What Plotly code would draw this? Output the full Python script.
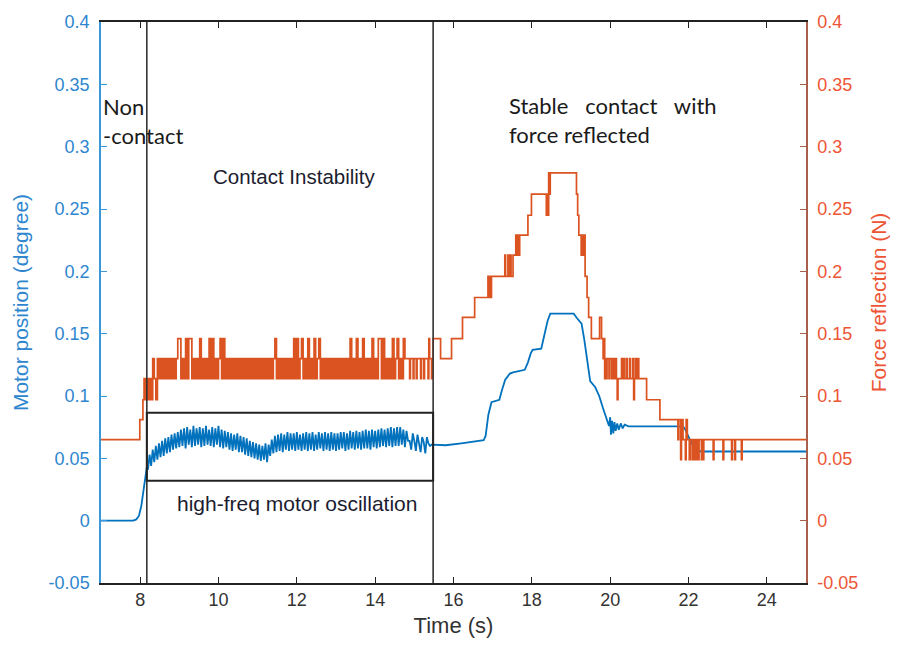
import plotly.graph_objects as go

# ---------------- data ----------------
# Motor position (degree), left axis
motor_pre = [(7.0, 0.0), (7.82, 0.0), (7.90, 0.001), (7.97, 0.004), (8.03, 0.012),
             (8.08, 0.024), (8.13, 0.036), (8.17, 0.043)]
motor_band_start = 8.20
motor_band_dt = 0.04
# high-frequency oscillation, thousandths of a degree
motor_band = [
    41, 53, 44, 57, 47, 60, 49, 62, 51, 64, 52, 66, 54, 67, 55, 69, 57, 70, 58, 71,
    59, 73, 60, 74, 58, 75, 61, 73, 59, 76, 60, 74, 61, 75, 59, 74, 60, 76, 61, 73,
    60, 75, 59, 74, 61, 76, 59, 73, 58, 72, 59, 71, 57, 70, 56, 69, 57, 70, 55, 68,
    55, 67, 53, 66, 52, 64, 51, 63, 50, 62, 49, 61, 48, 60, 49, 62, 47, 61, 52, 65,
    54, 68, 55, 69, 56, 70, 55, 69, 57, 71, 56, 70, 57, 70, 56, 71, 57, 69, 56, 70,
    57, 71, 56, 70, 57, 71, 56, 69, 57, 71, 58, 70, 56, 71, 57, 70, 56, 71, 57, 70,
    56, 70, 57, 71, 58, 71, 56, 70, 57, 72, 58, 71, 57, 72, 58, 71, 57, 72, 58, 73,
    58, 72, 57, 73, 59, 72, 58, 73, 59, 74, 60, 73, 59, 74, 60, 75, 59, 74, 60, 75,
    60, 75, 61, 73, 59, 72, 64, 64, 57, 70, 64, 56, 69, 63, 55, 67, 63, 54, 67, 62,
    60, 61,
]
motor_post = [(15.48, 0.061), (15.8, 0.0605), (16.2, 0.062), (16.5, 0.063), (16.77, 0.0645),
              (16.82, 0.068), (16.89, 0.085), (16.97, 0.095), (17.17, 0.097), (17.24, 0.105),
              (17.32, 0.113), (17.44, 0.118), (17.52, 0.119), (17.82, 0.121), (17.90, 0.127),
              (17.97, 0.134), (18.02, 0.137), (18.24, 0.138), (18.32, 0.148), (18.40, 0.160),
              (18.47, 0.166), (19.07, 0.166), (19.14, 0.163), (19.27, 0.158), (19.34, 0.145),
              (19.44, 0.120), (19.49, 0.112), (19.62, 0.107), (19.72, 0.100), (19.82, 0.090),
              (19.90, 0.083), (19.97, 0.076), (20.00, 0.083), (20.02, 0.069), (20.05, 0.080),
              (20.08, 0.070), (20.11, 0.079), (20.14, 0.072), (20.18, 0.078), (20.22, 0.073),
              (20.27, 0.078), (20.32, 0.074), (20.37, 0.077), (20.47, 0.0757), (21.86, 0.0757),
              (21.92, 0.073), (22.02, 0.066), (22.12, 0.060), (22.22, 0.057), (22.32, 0.0555),
              (25.0, 0.0555)]

# Force reflection (N), right axis (step signal)
force_levels = {"3": 0.097, "4": 0.114, "5": 0.130, "6": 0.146}
force_pre = [(7.0, 0.065), (7.99, 0.081), (8.07, 0.097), (8.10, 0.114), (8.12, 0.097),
             (8.14, 0.114), (8.16, 0.097), (8.18, 0.114)]
force_band_start = 8.20
force_band_dt = 0.04
force_band_codes = (
    "34354354545454545456"
    "64546466454546454546"
    "46454564645454545454"
    "54545454545454545454"
    "56454545454546464564"
    "54645464564545454545"
    "45454545464546454645"
    "45464546646454546456"
    "4546"
)
force_post = [(14.76, 0.130), (14.88, 0.114), (14.90, 0.130), (14.97, 0.114), (14.99, 0.130),
              (15.05, 0.114), (15.07, 0.130), (15.16, 0.114), (15.18, 0.130), (15.24, 0.114),
              (15.26, 0.130), (15.35, 0.114), (15.37, 0.146), (15.39, 0.130), (15.44, 0.114),
              (15.46, 0.130), (15.48, 0.146), (15.67, 0.130), (15.95, 0.146), (16.23, 0.163),
              (16.54, 0.179), (16.88, 0.196), (16.90, 0.179), (16.92, 0.196), (16.94, 0.179),
              (16.97, 0.196), (17.31, 0.213), (17.33, 0.196), (17.39, 0.213), (17.41, 0.196),
              (17.45, 0.213), (17.47, 0.196), (17.52, 0.213), (17.59, 0.229), (17.61, 0.213),
              (17.64, 0.229), (17.66, 0.213), (17.69, 0.229), (17.90, 0.245), (17.99, 0.262),
              (18.37, 0.245), (18.39, 0.262), (18.41, 0.245), (18.43, 0.279), (18.45, 0.262),
              (18.47, 0.279), (19.14, 0.262), (19.17, 0.245), (19.20, 0.229), (19.26, 0.213),
              (19.28, 0.229), (19.31, 0.213), (19.33, 0.229), (19.36, 0.196), (19.41, 0.179),
              (19.45, 0.163), (19.52, 0.146), (19.73, 0.163), (19.78, 0.146), (19.82, 0.130),
              (19.84, 0.146), (19.86, 0.114), (19.88, 0.130), (19.90, 0.114), (19.92, 0.130),
              (19.97, 0.114), (19.99, 0.130), (20.04, 0.114), (20.06, 0.130), (20.10, 0.114),
              (20.12, 0.130), (20.16, 0.114), (20.18, 0.097), (20.20, 0.114), (20.29, 0.130),
              (20.31, 0.114), (20.35, 0.130), (20.37, 0.114), (20.42, 0.130), (20.44, 0.114),
              (20.50, 0.130), (20.52, 0.114), (20.58, 0.130), (20.60, 0.097), (20.62, 0.114),
              (20.65, 0.130), (20.67, 0.114), (20.71, 0.130), (20.73, 0.114), (20.93, 0.097),
              (21.27, 0.081), (21.73, 0.065), (21.75, 0.081), (21.80, 0.049), (21.82, 0.081),
              (21.86, 0.065), (21.92, 0.049), (21.94, 0.081), (21.97, 0.065), (22.02, 0.049),
              (22.05, 0.065), (22.10, 0.049), (22.12, 0.065), (22.16, 0.049), (22.18, 0.065),
              (22.20, 0.049), (22.22, 0.065), (22.24, 0.049), (22.27, 0.065), (22.33, 0.049),
              (22.35, 0.065), (22.37, 0.049), (22.39, 0.065), (22.63, 0.049), (22.65, 0.065),
              (22.88, 0.049), (22.90, 0.065), (23.10, 0.049), (23.12, 0.065), (23.18, 0.049),
              (23.20, 0.065), (23.35, 0.049), (23.37, 0.065), (25.0, 0.065)]

x_ticks = [8, 10, 12, 14, 16, 18, 20, 22, 24]
y_ticks = [-0.05, 0, 0.05, 0.1, 0.15, 0.2, 0.25, 0.3, 0.35, 0.4]
y_tick_text = ["-0.05", "0", "0.05", "0.1", "0.15", "0.2", "0.25", "0.3", "0.35", "0.4"]

phase_bounds = [8.17, 15.48]            # vertical phase separators (s)
osc_box = (8.17, 15.48, 0.032, 0.0865)  # highlighted oscillation region

# ---------------- assemble series ----------------
motor_t = [t for t, _ in motor_pre]
motor_v = [v for _, v in motor_pre]
for i, m in enumerate(motor_band):
    motor_t.append(motor_band_start + i * motor_band_dt)
    motor_v.append(m / 1000.0)
motor_t += [t for t, _ in motor_post]
motor_v += [v for _, v in motor_post]

force_t = [t for t, _ in force_pre]
force_v = [v for _, v in force_pre]
for i, c in enumerate(force_band_codes):
    force_t.append(force_band_start + i * force_band_dt)
    force_v.append(force_levels[c])
force_t += [t for t, _ in force_post]
force_v += [v for _, v in force_post]

BLUE = "#0072BD"
ORANGE = "#DA5320"
BLUE_AX = "#3b98d8"
BLUE_TXT = "#2e86cf"
RED_TXT = "#ee5535"
RIGHT_AX = "#a8604c"

fig = go.Figure()
fig.add_trace(go.Scatter(x=force_t, y=force_v, mode="lines", yaxis="y2",
                         line=dict(color=ORANGE, width=1.7, shape="hv"),
                         showlegend=False, hoverinfo="skip"))
fig.add_trace(go.Scatter(x=motor_t, y=motor_v, mode="lines", yaxis="y",
                         line=dict(color=BLUE, width=1.8),
                         showlegend=False, hoverinfo="skip"))

shapes = []
for xb in phase_bounds:
    shapes.append(dict(type="line", xref="x", yref="paper", x0=xb, x1=xb, y0=0, y1=1,
                       line=dict(color="#333333", width=1.6)))
shapes.append(dict(type="rect", xref="x", yref="y", x0=osc_box[0], x1=osc_box[1],
                   y0=osc_box[2], y1=osc_box[3], line=dict(color="#222222", width=2)))

annotations = [
    dict(text="Non<br>-contact", x=7.0, y=0.3205, xref="x", yref="y", xanchor="left",
         yanchor="middle", align="left", showarrow=False,
         font=dict(family="Lato, Open Sans, sans-serif", size=22, color="#1a1a1a")),
    dict(text="Contact Instability", x=11.95, y=0.2757, xref="x", yref="y",
         xanchor="center", yanchor="middle", showarrow=False,
         font=dict(family="Liberation Sans, Arial, sans-serif", size=20.5, color="#1c1c30")),
    dict(text="Stable\u00a0\u00a0 contact\u00a0\u00a0 with<br>force reflected", x=17.36, y=0.3215,
         xref="x", yref="y", xanchor="left", yanchor="middle", align="left", showarrow=False,
         font=dict(family="Lato, Open Sans, sans-serif", size=22, color="#1a1a1a")),
    dict(text="high-freq motor oscillation", x=12.0, y=0.0135, xref="x", yref="y",
         xanchor="center", yanchor="middle", showarrow=False,
         font=dict(family="Liberation Sans, Arial, sans-serif", size=21, color="#1c1c30")),
]

fig.update_layout(
    width=900, height=659,
    margin=dict(l=101, r=94, t=15, b=76),
    paper_bgcolor="white", plot_bgcolor="white",
    showlegend=False,
    shapes=shapes,
    annotations=annotations,
    xaxis=dict(range=[7, 25], tickvals=x_ticks, ticktext=[str(v) for v in x_ticks],
               ticks="inside", ticklen=6, tickcolor="#222222", tickwidth=1,
               showline=True, linecolor="#222222", linewidth=1.5, mirror="ticks",
               showgrid=False, zeroline=False,
               tickfont=dict(family="Liberation Sans Narrow, Liberation Sans, Arial", size=18, color="#333333"),
               title=dict(text="Time (s)", standoff=8,
                          font=dict(family="Liberation Sans, Arial", size=22, color="#333333"))),
    yaxis=dict(range=[-0.05, 0.4], tickvals=y_ticks, ticktext=y_tick_text,
               ticks="inside", ticklen=6, tickcolor=BLUE_AX, tickwidth=1,
               showline=True, linecolor=BLUE_AX, linewidth=1.5,
               showgrid=False, zeroline=False, ticklabelstandoff=6,
               tickfont=dict(family="Liberation Sans, Arial", size=18, color=BLUE_TXT),
               title=dict(text="Motor position (degree)", standoff=14,
                          font=dict(family="Liberation Sans, Arial", size=21, color=BLUE_TXT))),
    yaxis2=dict(range=[-0.05, 0.4], tickvals=y_ticks, ticktext=y_tick_text,
                overlaying="y", side="right",
                ticks="inside", ticklen=6, tickcolor=RIGHT_AX, tickwidth=1,
                showline=True, linecolor=RIGHT_AX, linewidth=1.5,
                showgrid=False, zeroline=False, ticklabelstandoff=6,
                tickfont=dict(family="Liberation Sans, Arial", size=18, color=RED_TXT),
                title=dict(text="Force reflection (N)", standoff=14,
                           font=dict(family="Liberation Sans, Arial", size=21, color=RED_TXT))),
)

fig.write_html("out.html")
